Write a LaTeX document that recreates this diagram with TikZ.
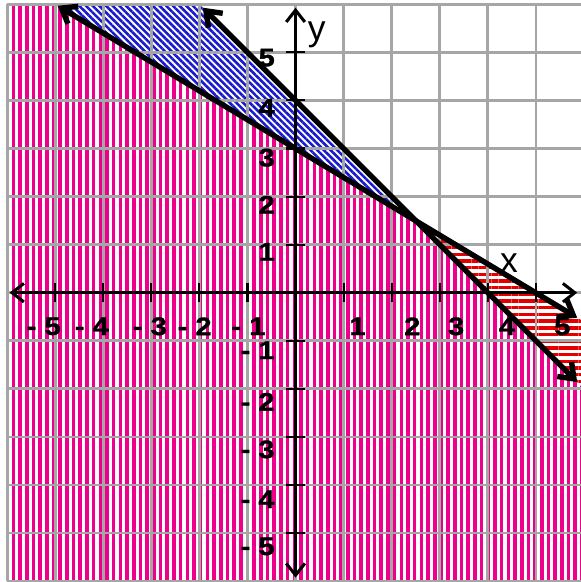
\documentclass[tikz,border=0pt]{standalone}
\usepackage{fontspec}
\setmainfont{Liberation Sans}
\newfontfamily\numfont[FakeStretch=1.15,FakeBold=1.2]{Liberation Sans Bold}
\usetikzlibrary{arrows.meta,patterns.meta}
\definecolor{gridgray}{RGB}{166,166,166}
\definecolor{stripepink}{RGB}{238,0,140}
\definecolor{stripeblue}{RGB}{25,25,205}
\definecolor{stripered}{RGB}{228,0,0}

\begin{document}
\begin{tikzpicture}[
  >={Straight Barb[length=7pt,width=11pt]},
  gridline/.style={draw=gridgray, line width=1.6pt},
  axis/.style={line width=1.8pt, <->},
  tickmark/.style={line width=1.2pt},
  bound/.style={line width=3.2pt, {Straight Barb[length=8pt,width=12pt]}-{Straight Barb[length=8pt,width=12pt]}},
  numlbl/.style={font=\numfont\fontsize{15}{15}\selectfont, inner sep=0pt},
  varlbl/.style={font=\fontsize{21}{21}\selectfont, inner sep=0pt},
  pinkfill/.style={pattern={Lines[angle=90,distance=3.96pt,line width=2.1pt]}, pattern color=stripepink},
  bluefill/.style={pattern={Lines[angle=-45,distance=2.8pt,line width=1.5pt]}, pattern color=stripeblue},
  redfill/.style={pattern={Lines[angle=0,distance=3.96pt,line width=2pt]}, pattern color=stripered}]
  \path[use as bounding box, fill=white] (-6.15,-6.02) rectangle (5.92,6.09);

  \fill[pinkfill] (-6,-6) -- (-6,6) -- (-5,6) -- (2.5,1.5) -- (6,-2) -- (6,-6) -- cycle;
  \fill[bluefill] (-5,6) -- (-2,6) -- (2.5,1.5) -- cycle;
  \fill[redfill] (2.5,1.5) -- (6,-0.6) -- (6,-2) -- cycle;

  \draw[gridline] (-6,-6) grid (6,6);

  \draw[axis] (-5.95,0) -- (5.86,0);
  \draw[axis] (0,-5.93) -- (0,5.93);
  \foreach \k in {-5,...,-1,1,2,...,5} {
    \draw[tickmark] (\k,-0.2) -- (\k,0.2);
    \draw[tickmark] (-0.2,\k) -- (0.2,\k);
  }

  \draw[bound] (-4.95,5.97) -- (5.86,-0.52);
  \draw[bound] (-1.93,5.93) -- (5.86,-1.86);

  \foreach \x/\t [count=\i] in {-5.24/- 5, -4.24/- 4, -3.03/- 3, -2.1/- 2, -0.98/- 1, 1.29/1, 2.43/2, 3.34/3, 4.4/4, 5.55/5}
    \node[numlbl] (xn\i) at (\x,-0.7) {\t};
  \foreach \y/\t [count=\i] in {4.89/5, 3.85/4, 2.81/3, 1.83/2, 0.85/1}
    \node[numlbl] (yp\i) at (-0.6,\y) {\t};
  \foreach \y/\t [count=\i] in {-1.2/- 1, -2.27/- 2, -3.26/- 3, -4.3/- 4, -5.28/- 5}
    \node[numlbl] (yn\i) at (-0.79,\y) {\t};

  \node[varlbl] (xlab) at (4.44,0.62) {x};
  \node[varlbl] (ylab) at (0.44,5.37) {y};
\end{tikzpicture}
\end{document}
